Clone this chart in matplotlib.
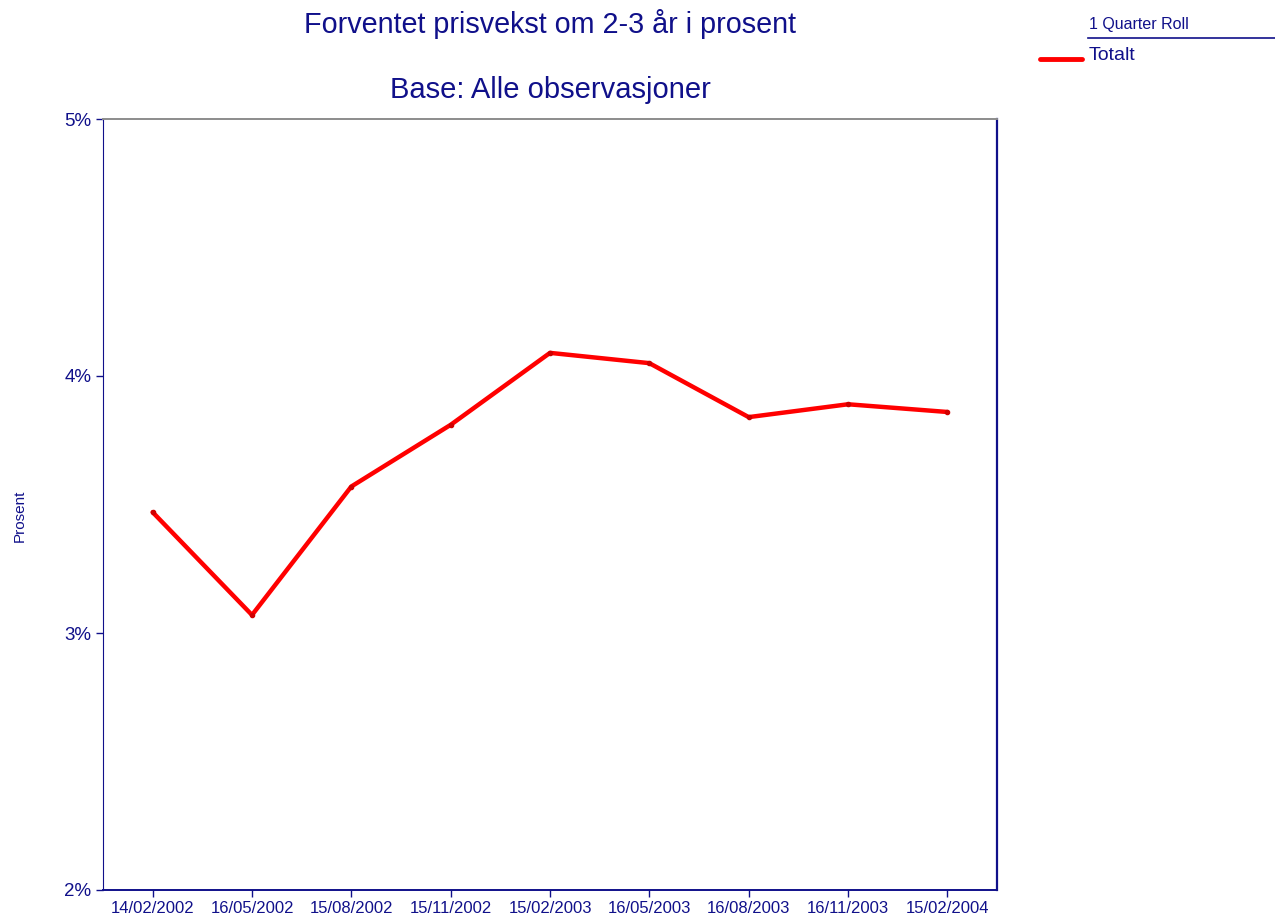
import matplotlib
matplotlib.use("Agg")
import matplotlib.pyplot as plt
import matplotlib.ticker as ticker
import numpy as np

# data
dates = ["14/02/2002", "16/05/2002", "15/08/2002", "15/11/2002", "15/02/2003",
         "16/05/2003", "16/08/2003", "16/11/2003", "15/02/2004"]
totalt = [3.47, 3.07, 3.57, 3.81, 4.09, 4.05, 3.84, 3.89, 3.86]
y_ticks = [2, 3, 4, 5]

navy = "#10108a"
plt.rcParams["font.family"] = ["Liberation Sans", "DejaVu Sans"]

fig = plt.figure(figsize=(12.75, 9.14), dpi=100)
fig.patch.set_facecolor("white")
ax = fig.add_axes([103 / 1275, 1 - 890 / 914, 894 / 1275, 771 / 914])

x = np.arange(len(dates)) + 0.5
ax.plot(x, totalt, color="#ff0000", linewidth=3.2, solid_capstyle="round",
        marker="o", markersize=3, markerfacecolor="#d00000", markeredgecolor="#d00000")

ax.set_xlim(0, len(dates))
ax.set_ylim(2, 5)
ax.set_xticks(x)
ax.set_xticklabels(dates, fontsize=12, color=navy)
ax.set_yticks(y_ticks)
ax.yaxis.set_major_formatter(ticker.FuncFormatter(lambda v, p: f"{v:.0f}%"))
ax.tick_params(axis="y", labelsize=13.5, colors=navy, direction="out", length=5, width=1)
ax.tick_params(axis="x", colors=navy, direction="out", length=5, width=1, pad=3)
for lab in ax.get_yticklabels():
    lab.set_color(navy)

ax.spines["left"].set_color(navy)
ax.spines["bottom"].set_color(navy)
ax.spines["right"].set_color(navy)
ax.spines["right"].set_linewidth(1.6)
ax.spines["bottom"].set_linewidth(1.4)
ax.spines["top"].set_color("#8c8c8c")
ax.spines["top"].set_linewidth(1.4)

ax.set_ylabel("Prosent", fontsize=11, color=navy)
ax.yaxis.set_label_coords(-76 / 894, 0.485)

fig.text(550 / 1275, 1 - 24 / 914, "Forventet prisvekst om 2-3 år i prosent",
         fontsize=20.7, color=navy, ha="center", va="center")
fig.text(550 / 1275, 1 - 90 / 914, "Base: Alle observasjoner",
         fontsize=21, color=navy, ha="center", va="center")

# legend block in the top right corner
fig.text(1089 / 1275, 1 - 24 / 914, "1 Quarter Roll", fontsize=11.5, color=navy,
         ha="left", va="center")
fig.add_artist(plt.Line2D([1088 / 1275, 1275 / 1275], [1 - 38 / 914, 1 - 38 / 914],
                          color=navy, linewidth=1.2, transform=fig.transFigure))
fig.add_artist(plt.Line2D([1040 / 1275, 1082 / 1275], [1 - 59 / 914, 1 - 59 / 914],
                          color="#ff0000", linewidth=3.5, solid_capstyle="round",
                          transform=fig.transFigure))
fig.text(1089 / 1275, 1 - 56 / 914, "Totalt", fontsize=14, color=navy,
         ha="left", va="center")

fig.savefig("out.png", dpi=100)
